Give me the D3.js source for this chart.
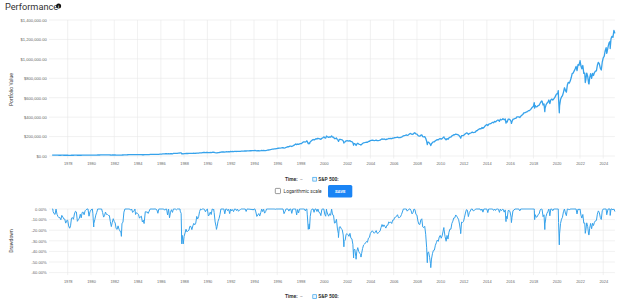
<!DOCTYPE html>
<html>
<head>
<meta charset="utf-8">
<title>Performance</title>
<script src="https://cdn.jsdelivr.net/npm/d3@7"></script>
<style>
  body { margin: 0; background: #fff; }
  svg { display: block; font-family: Roboto, Helvetica, Arial, sans-serif; }
  .grid line { stroke: #e8e8e8; stroke-width: 0.6; }
  .axis text { fill: #666; }
  .axis .domain { display: none; }
</style>
</head>
<body>
<svg width="624" height="300"></svg>
<script>
// month-end portfolio values, starting Aug 1976
var firstMonth = [1976, 7];
var monthlyValues = [
  8249, 8443, 8263, 8207, 8645,
  8216, 8046, 7940, 7948, 7768, 8128, 8003, 7841, 7830, 7496, 7705, 7735,
  7265, 7091, 7275, 7903, 7944, 7812, 8240, 8461, 8406, 7644, 7778, 7900,
  8221, 7929, 8373, 8394, 8181, 8505, 8586, 9051, 9058, 8444, 8812, 8968,
  9492, 9459, 8504, 8861, 9282, 9541, 10170, 10238, 10505, 10683, 11787, 11397,
  10885, 11040, 11447, 11188, 11180, 11073, 11058, 10381, 9830, 10322, 10709, 10396,
  10222, 9612, 9522, 9911, 9531, 9346, 9139, 10207, 10295, 11440, 11863, 12053,
  12462, 12711, 13142, 14139, 13977, 14481, 14014, 14186, 14342, 14136, 14395, 14280,
  14160, 13622, 13817, 13904, 13090, 13330, 13121, 14528, 14491, 14501, 14294, 14625,
  15770, 15967, 15983, 15971, 16900, 17171, 17152, 17011, 16482, 17247, 18438, 19341,
  19439, 20888, 22050, 21797, 22957, 23343, 22032, 23664, 21702, 22951, 23506, 22904,
  25991, 27022, 27805, 27559, 27797, 29205, 30690, 31846, 31156, 24439, 22408, 24103,
  25159, 26295, 25501, 25825, 25988, 27200, 27139, 26173, 27300, 28098, 27652, 28147,
  30232, 29438, 30136, 31732, 32937, 32765, 35757, 36410, 36273, 35455, 36139, 37012,
  34573, 34975, 35935, 35078, 38420, 38197, 38115, 34624, 32952, 32832, 34903, 35878,
  37471, 40102, 41105, 41232, 42944, 40998, 42954, 43916, 43192, 43822, 42010, 46823,
  46005, 46561, 45653, 47043, 47205, 46499, 48445, 47398, 47947, 48165, 49739, 50364,
  50837, 51494, 52579, 51361, 52650, 52816, 52655, 54593, 54172, 55354, 54764, 55442,
  57384, 55795, 53368, 54114, 54917, 53575, 55390, 57610, 56194, 57504, 55359, 56173,
  57664, 59876, 61642, 63505, 65955, 67505, 69797, 69926, 72888, 72682, 75823, 77312,
  79986, 80694, 81488, 82733, 84784, 85137, 81395, 83083, 87749, 90204, 97005, 95096,
  101077, 101834, 97638, 103501, 109725, 114670, 123810, 116868, 123270, 119193, 124699, 126845,
  128299, 137506, 144561, 146051, 143487, 149338, 147783, 126399, 134449, 145431, 154216, 163119,
  169987, 164661, 171229, 177899, 173639, 183284, 177583, 176658, 171781, 182714, 186378, 197364,
  187499, 183907, 201904, 195875, 191767, 196546, 193520, 205479, 194676, 193898, 178544, 179439,
  185859, 168880, 158211, 170539, 171595, 167488, 165854, 155391, 142838, 145582, 156697, 158045,
  155798, 152773, 158604, 149067, 147916, 137387, 126706, 127499, 113626, 123617, 130849, 123122,
  119926, 118072, 119237, 129102, 135876, 137619, 140069, 142785, 141298, 149285, 150582, 158460,
  161435, 163646, 161206, 158732, 160874, 164007, 158615, 159209, 160934, 163427, 169981, 175753,
  171568, 175088, 171999, 168795, 174114, 174363, 180906, 179144, 180672, 177732, 184261, 184372,
  189362, 189755, 192153, 194796, 189078, 189387, 190644, 195012, 200110, 206732, 210473, 213454,
  216800, 212402, 214863, 224505, 232180, 228403, 221448, 224651, 233058, 236869, 226792, 225188,
  211842, 204890, 204093, 214226, 216947, 198694, 197128, 199942, 182150, 151590, 140522, 141901,
  130010, 115953, 126111, 138236, 145877, 146200, 157355, 162962, 169122, 166112, 175991, 179475,
  173140, 178386, 189190, 192315, 176855, 167614, 179440, 171219, 186529, 193735, 193610, 206605,
  211657, 218806, 218948, 225582, 222927, 219239, 214893, 203043, 188800, 209502, 208791, 210937,
  220551, 229940, 237595, 236261, 221878, 231104, 234457, 239541, 245807, 241395, 242535, 244706,
  257510, 260813, 270685, 276076, 282297, 278561, 292862, 284202, 293161, 306780, 315945, 323944,
  312952, 327003, 329850, 332461, 340029, 347098, 342443, 355939, 351028, 359778, 369225, 368296,
  357502, 377800, 371889, 375726, 380363, 373031, 381069, 357852, 349004, 378631, 379488, 373489,
  355200, 354390, 378477, 380201, 386741, 387827, 402377, 402624, 402865, 395762, 410034, 418258,
  426445, 443041, 443601, 448373, 454311, 457273, 466887, 467908, 477721, 489119, 503676, 509456,
  538952, 518804, 505700, 507896, 519709, 523069, 542784, 560138, 563447, 525183, 535418, 487057,
  526272, 542836, 553502, 576234, 539239, 577409, 585983, 576337, 587222, 600222, 621694, 640534,
  640459, 587476, 514773, 580942, 608162, 620275, 655434, 702407, 675896, 658178, 730048, 758275,
  750722, 771226, 804908, 848067, 853729, 873725, 894655, 921677, 878867, 940695, 933952, 975828,
  925823, 898014, 931452, 850723, 851967, 781530, 853938, 818843, 743371, 803862, 848255, 799307,
  849849, 828809, 859010, 872797, 876176, 934179, 964554, 948772, 903792, 885143, 965359, 1009439,
  1026648, 1081021, 1115814, 1070588, 1123318, 1163564, 1178052, 1206385, 1232134, 1221309, 1292799, 1261904
];

// intra-month highs and lows
var extremeDates = [
  "1976-09-21", "1978-03-06", "1980-02-13", "1980-03-27", "1982-08-12", "1983-10-10",
  "1984-07-24", "1987-08-25", "1987-10-19", "1987-12-04", "1990-07-16", "1990-10-11",
  "1998-07-17", "1998-10-08", "2000-03-24", "2000-09-01", "2001-04-04", "2001-09-21",
  "2002-07-23", "2002-10-09", "2003-03-11", "2007-10-09", "2008-11-20", "2009-03-09",
  "2010-04-23", "2010-07-02", "2011-10-03", "2015-05-21", "2015-08-25", "2016-02-11",
  "2018-01-26", "2018-02-08", "2018-09-20", "2018-12-24", "2020-02-19", "2020-03-23",
  "2022-01-03", "2022-06-16", "2022-10-12", "2024-04-19", "2024-08-05"
];
var extremeValues = [
  8649, 7082, 9851, 8180, 8744, 14914,
  12871, 32498, 21805, 21799, 39430, 31848,
  156414, 126790, 205749, 205912, 150461, 132488,
  110840, 108304, 112503, 239030, 117907, 106784,
  197175, 166323, 183461, 384400, 338691, 335179,
  548144, 492971, 566367, 456584, 672997, 445354,
  982144, 756638, 741876, 1055536, 1106659
];

var valueTicks = [0, 200000, 400000, 600000, 800000, 1000000, 1200000, 1400000];
var drawdownTicks = [0, -0.1, -0.2, -0.3, -0.4, -0.5, -0.6];
var seriesName = "S&P 500:";

var svg = d3.select("svg");
var blue = "#36a2eb";
var parse = d3.timeParse("%Y-%m-%d");

// merge month-end points with extremes
var points = monthlyValues.map(function(v, i) {
  return { date: new Date(firstMonth[0], firstMonth[1] + i + 1, 0), value: v };
});
extremeDates.forEach(function(d, i) {
  points.push({ date: parse(d), value: extremeValues[i] });
});
points.sort(function(a, b) { return a.date - b.date; });

var peak = 0;
points.forEach(function(p) {
  peak = Math.max(peak, p.value);
  p.dd = p.value / peak - 1;
});

var x = d3.scaleTime()
  .domain([new Date(1976, 7, 31), new Date(2024, 11, 31)])
  .range([52.15, 614.9]);

var xTicks = x.ticks(d3.timeYear.every(2));

// title
svg.append("text")
  .attr("x", 5).attr("y", 9.6)
  .attr("font-size", 9.2)
  .attr("fill", "#333")
  .text("Performance");
svg.append("circle").attr("cx", 58.6).attr("cy", 6).attr("r", 2.5).attr("fill", "#111");
svg.append("text").attr("x", 58.6).attr("y", 7.5).attr("text-anchor", "middle")
  .attr("font-size", 4).attr("font-weight", "bold").attr("fill", "#fff").text("i");

function panel(cfg) {
  var y = d3.scaleLinear().domain(cfg.domain).range(cfg.range);
  var top = cfg.range[1], bottom = cfg.range[0];

  var grid = svg.append("g").attr("class", "grid");
  grid.selectAll(".h").data(cfg.ticks).enter().append("line")
    .attr("x1", 49).attr("x2", x.range()[1])
    .attr("y1", function(d) { return y(d); })
    .attr("y2", function(d) { return y(d); });
  grid.selectAll(".v").data(xTicks).enter().append("line")
    .attr("x1", function(d) { return x(d); })
    .attr("x2", function(d) { return x(d); })
    .attr("y1", top).attr("y2", bottom + 2.5);

  var yAxis = svg.append("g").attr("class", "axis")
    .attr("transform", "translate(52,0)")
    .call(d3.axisLeft(y).tickValues(cfg.ticks).tickFormat(cfg.format)
      .tickSize(0).tickPadding(5.3));
  yAxis.selectAll("text").attr("font-size", 4.1);

  var xAxis = svg.append("g").attr("class", "axis")
    .attr("transform", "translate(0," + bottom + ")")
    .call(d3.axisBottom(x).tickValues(xTicks).tickFormat(d3.timeFormat("%Y")).tickSize(0));
  xAxis.selectAll("text").attr("font-size", 3.9).attr("y", cfg.labelOffset).attr("dy", "0.35em");

  svg.append("text")
    .attr("transform", "translate(11," + cfg.titleY + ") rotate(-90)")
    .attr("text-anchor", "middle").attr("dy", "0.35em")
    .attr("font-size", 5).attr("fill", "#333")
    .text(cfg.title);

  var line = d3.line()
    .x(function(d) { return x(d.date); })
    .y(function(d) { return y(cfg.accessor(d)); });

  svg.append("path")
    .datum(points)
    .attr("fill", "none")
    .attr("stroke", blue)
    .attr("stroke-width", cfg.width)
    .attr("stroke-linejoin", "round")
    .attr("d", line);

  // legend under the panel
  var ly = cfg.legendY;
  var lg = svg.append("g").attr("font-size", 4.9);
  lg.append("text").attr("x", 285).attr("y", ly).attr("dy", "0.35em")
    .attr("font-weight", "bold").attr("fill", "#333").text("Time:");
  lg.append("text").attr("x", 299.8).attr("y", ly).attr("dy", "0.35em")
    .attr("fill", "#777").text("–");
  lg.append("rect").attr("x", 312.8).attr("y", ly - 2).attr("width", 3.8).attr("height", 3.8)
    .attr("fill", "#eaf5fd").attr("stroke", blue).attr("stroke-width", 0.7);
  lg.append("text").attr("x", 318.3).attr("y", ly).attr("dy", "0.35em")
    .attr("font-weight", "bold").attr("fill", "#333").text(seriesName);
}

panel({
  domain: [0, 1400000], range: [156, 20], ticks: valueTicks,
  format: d3.format("$,.2f"),
  accessor: function(d) { return d.value; },
  labelOffset: 8, title: "Portfolio Value", titleY: 89.6,
  width: 1.3, legendY: 179.3
});

panel({
  domain: [-0.6, 0], range: [272.6, 209], ticks: drawdownTicks,
  format: function(v) { return (v * 100).toFixed(2) + "%"; },
  accessor: function(d) { return d.dd; },
  labelOffset: 9, title: "Drawdown", titleY: 241,
  width: 1, legendY: 296.7
});

// log scale checkbox and save button
svg.append("rect").attr("x", 275.3).attr("y", 188.4).attr("width", 5.2).attr("height", 5.2)
  .attr("rx", 0.8).attr("fill", "#fff").attr("stroke", "#555").attr("stroke-width", 0.6);
svg.append("text").attr("x", 283.6).attr("y", 191).attr("dy", "0.35em")
  .attr("font-size", 4.8).attr("fill", "#333").text("Logarithmic scale");
svg.append("rect").attr("x", 328).attr("y", 185).attr("width", 24.3).attr("height", 12.6)
  .attr("rx", 1.6).attr("fill", "#1a84f5");
svg.append("text").attr("x", 340.2).attr("y", 191.3).attr("dy", "0.35em")
  .attr("text-anchor", "middle").attr("font-size", 4.3).attr("font-weight", "bold")
  .attr("fill", "#fff").text("SAVE");
</script>
</body>
</html>
